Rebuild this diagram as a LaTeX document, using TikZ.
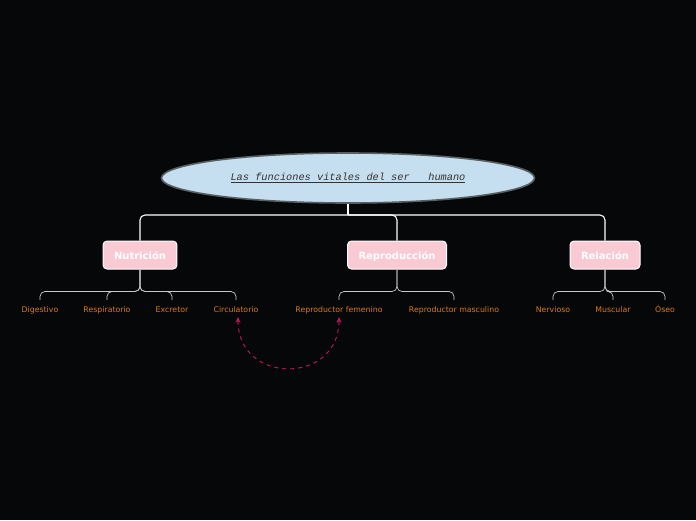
\documentclass[tikz,border=0pt]{standalone}
\usepackage{fontspec}
\setsansfont{DejaVu Sans}
\setmonofont{Liberation Mono}
\usetikzlibrary{arrows.meta, shapes.geometric}

\begin{document}
\begin{tikzpicture}[x=1pt, y=-1pt,
    topic/.style={ellipse, draw=ellipseBorder, line width=1.6pt, fill=ellipseFill,
        minimum width=373pt, minimum height=50pt, inner sep=0pt,
        font=\ttfamily\itshape\fontsize{10.3}{12}\selectfont, text=titleText},
    branchbox/.style={rectangle, rounded corners=4pt, draw=white, line width=1pt,
        fill=boxFill, text=white, font=\sffamily\bfseries\fontsize{10}{12}\selectfont,
        minimum height=28pt, inner xsep=11pt, text height=8.5pt, text depth=0.5pt},
    leaf/.style={font=\sffamily\fontsize{7.8}{9}\selectfont, text=leafText, inner sep=0pt,
        text height=6pt, text depth=1.5pt, anchor=center},
    branch/.style={draw=white, line width=1.1pt},
    twig/.style={draw=twigColour, line width=0.7pt, rounded corners=5pt},
    link/.style={draw=linkColour, line width=0.9pt, dashed, dash pattern=on 4pt off 4pt,
        {Stealth[length=6pt,width=5pt]}-{Stealth[length=6pt,width=5pt]}}]
    % Define colours
    \definecolor{bgColour}{HTML}{050709}
    \definecolor{ellipseFill}{HTML}{C5DFF0}
    \definecolor{ellipseBorder}{HTML}{5A5F63}
    \definecolor{titleText}{HTML}{333333}
    \definecolor{boxFill}{HTML}{F9C9D4}
    \definecolor{leafText}{HTML}{E0780F}
    \definecolor{twigColour}{HTML}{C8C8C8}
    \definecolor{linkColour}{HTML}{C2185B}

    % Background
    \useasboundingbox (0,0) rectangle (696,520);
    \fill[bgColour] (0,0) rectangle (696,520);

    % Define row heights
    \def\barY{215}
    \def\twigDrop{22}

    % Central topic
    \node[topic] (root) at (348,178) {\underline{Las funciones vitales del ser\ \ \ humano}};

    % Main branches
    \node[branchbox] (nutricion) at (140,255) {Nutrición};
    \node[branchbox] (reproduccion) at (397,255) {Reproducción};
    \node[branchbox] (relacion) at (605,255) {Relación};

    % Leaves
    \node[leaf] (digestivo) at (40,310) {Digestivo};
    \node[leaf] (respiratorio) at (107,310) {Respiratorio};
    \node[leaf] (excretor) at (172,310) {Excretor};
    \node[leaf] (circulatorio) at (236,310) {Circulatorio};
    \node[leaf] (femenino) at (339,310) {Reproductor femenino};
    \node[leaf] (masculino) at (454,310) {Reproductor masculino};
    \node[leaf] (nervioso) at (553,310) {Nervioso};
    \node[leaf] (muscular) at (613,310) {Muscular};
    \node[leaf] (oseo) at (665,310) {Óseo};

    % Draw branch connectors
    \draw[branch] (root.south) -- (root.south |- 0,\barY);
    \foreach \b in {nutricion,reproduccion,relacion}
        \draw[branch, rounded corners=5pt] (root.south |- 0,\barY) -| (\b.north);

    % Draw leaf connectors
    \foreach \b/\l in {nutricion/digestivo, nutricion/respiratorio, nutricion/excretor,
            nutricion/circulatorio, reproduccion/femenino, reproduccion/masculino,
            relacion/nervioso, relacion/muscular, relacion/oseo}
        \draw[twig] (\b.south) -- ++(0,\twigDrop) -| ([yshift=6pt]\l.north);

    % Draw relation between circulatory and reproductive systems
    \draw[link] ([xshift=2pt,yshift=-3pt]circulatorio.south) .. controls +(0,68) and +(0,68) .. ([yshift=-3pt]femenino.south);

\end{tikzpicture}
\end{document}
